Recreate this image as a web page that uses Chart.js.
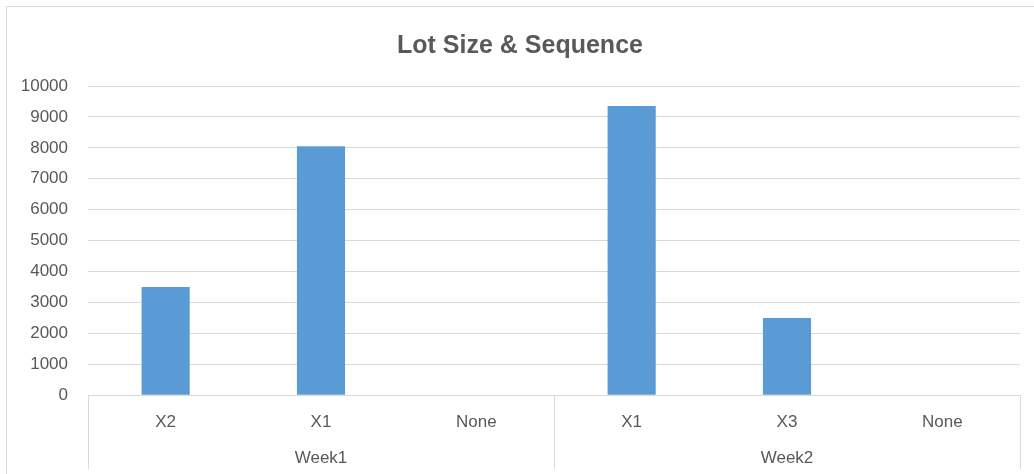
<!DOCTYPE html>
<html>
<head>
<meta charset="utf-8">
<script src="https://cdn.jsdelivr.net/npm/chart.js@4/dist/chart.umd.min.js"></script>
<style>
  body { margin: 0; background: #fff; overflow: hidden; }
  #wrap { position: absolute; left: 6px; top: 6px; width: 1028px; height: 468px; border-left: 1px solid #d9d9d9; border-top: 1px solid #d9d9d9; background: #fff; }
</style>
</head>
<body>
<div id="wrap"><canvas id="chart-lot"></canvas></div>
<script>
const categories = ['X2', 'X1', 'None', 'X1', 'X3', 'None'];
const weeks = ['Week1', 'Week2'];
const lotSizes = [3500, 8050, 0, 9350, 2500, 0];
const yMax = 10000;
const yStep = 1000;

const textGray = '#595959';
const lineGray = '#d9d9d9';

// separators between week groups, below the plot
const groupLines = {
    id: 'groupLines',
    afterDraw(chart) {
        const x = chart.scales.x;
        const x2 = chart.scales.x2;
        const ctx = chart.ctx;
        const per = categories.length / weeks.length;
        const xs = [chart.chartArea.left, chart.chartArea.right];
        for (let g = 1; g < weeks.length; g++) {
            xs.push((x.getPixelForValue(g * per - 1) + x.getPixelForValue(g * per)) / 2);
        }
        ctx.save();
        ctx.strokeStyle = lineGray;
        ctx.lineWidth = 1;
        xs.forEach(function(px) {
            px = Math.round(px) + 0.5;
            ctx.beginPath();
            ctx.moveTo(px, chart.chartArea.bottom);
            ctx.lineTo(px, x2.bottom);
            ctx.stroke();
        });
        ctx.restore();
    }
};

const labelFont = { family: 'Liberation Sans', size: 17 };

new Chart(document.getElementById('chart-lot'), {
    type: 'bar',
    data: {
        labels: categories,
        datasets: [{
            label: 'Lot Size',
            data: lotSizes,
            backgroundColor: '#5b9bd5',
            borderWidth: 0,
            barPercentage: 0.31,
            categoryPercentage: 1
        }]
    },
    options: {
        responsive: true,
        maintainAspectRatio: false,
        animation: false,
        layout: { padding: { top: 1, right: 15, left: 13, bottom: 6 } },
        plugins: {
            legend: { display: false },
            tooltip: { enabled: false },
            title: {
                display: true,
                text: 'Lot Size & Sequence',
                color: textGray,
                font: { family: 'Liberation Sans', size: 25, weight: 'bold' },
                padding: { top: 23, bottom: 25 }
            }
        },
        scales: {
            x: {
                grid: { display: false, drawTicks: false },
                border: { display: true, color: lineGray },
                ticks: { color: textGray, font: labelFont, padding: 16.5 }
            },
            x2: {
                type: 'category',
                labels: weeks,
                position: 'bottom',
                grid: { display: false, drawTicks: false },
                border: { display: false },
                ticks: { color: textGray, font: labelFont, padding: 0 }
            },
            y: {
                min: 0,
                max: yMax,
                grid: { color: lineGray, drawTicks: false },
                border: { display: false },
                afterFit: function(scale) { scale.width = 68; },
                ticks: {
                    stepSize: yStep,
                    color: textGray,
                    font: labelFont,
                    padding: 20,
                    callback: function(v) { return String(v); }
                }
            }
        }
    },
    plugins: [groupLines]
});
</script>
</body>
</html>
